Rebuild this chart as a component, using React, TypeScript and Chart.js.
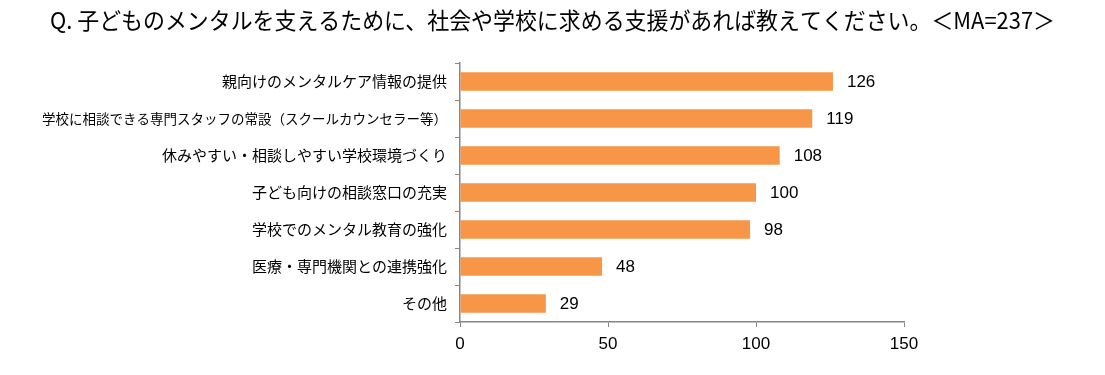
import React, { useEffect, useRef } from "react";
import { Chart, registerables } from "chart.js";

Chart.register(...registerables);

const TITLE = "Q. 子どものメンタルを支えるために、社会や学校に求める支援があれば教えてください。＜MA=237＞";
const categories = [
  "親向けのメンタルケア情報の提供",
  "学校に相談できる専門スタッフの常設（スクールカウンセラー等）",
  "休みやすい・相談しやすい学校環境づくり",
  "子ども向けの相談窓口の充実",
  "学校でのメンタル教育の強化",
  "医療・専門機関との連携強化",
  "その他",
];
const values = [126, 119, 108, 100, 98, 48, 29];
const xTicks = [0, 50, 100, 150];

const FONT = "'Noto Sans CJK JP', 'Liberation Sans', sans-serif";
const NUM_FONT = "'Liberation Sans', Arial, sans-serif";

const titlePlugin = {
  id: "centeredTitle",
  afterDraw(chart: any) {
    const ctx = chart.ctx;
    ctx.save();
    ctx.fillStyle = "#000";
    ctx.font = `23px ${FONT}`;
    ctx.textAlign = "center";
    ctx.textBaseline = "middle";
    const w = ctx.measureText(TITLE).width;
    const target = 1005;
    const sx = target / w;
    ctx.translate(chart.width / 2, 20);
    ctx.scale(sx, 1);
    ctx.fillText(TITLE, 0, 0);
    ctx.restore();
  },
};

const valueLabels = {
  id: "valueLabels",
  afterDatasetsDraw(chart: any) {
    const ctx = chart.ctx;
    const meta = chart.getDatasetMeta(0);
    ctx.save();
    ctx.fillStyle = "#000";
    ctx.font = `17px ${NUM_FONT}`;
    ctx.textAlign = "left";
    ctx.textBaseline = "middle";
    meta.data.forEach((bar: any, i: number) => {
      ctx.fillText(String(values[i]), bar.x + 14, bar.y + 1);
    });
    ctx.restore();
  },
};

export default function App() {
  const ref = useRef<HTMLCanvasElement | null>(null);
  useEffect(() => {
    document.body.style.margin = "0";
    const chart = new Chart(ref.current!, {
      type: "bar",
      data: {
        labels: categories,
        datasets: [
          {
            data: values,
            backgroundColor: "#F79646",
            borderWidth: 0,
            categoryPercentage: 1,
            barPercentage: 0.5,
          },
        ],
      },
      options: {
        indexAxis: "y",
        animation: false,
        responsive: false,
        layout: { padding: { left: 0, right: 201, top: 63, bottom: 0 } },
        plugins: {
          legend: { display: false },
          tooltip: { enabled: false },
          title: { display: false },
        },
        scales: {
          x: {
            min: 0,
            max: 150,
            afterBuildTicks(scale: any) {
              scale.ticks = xTicks.map((v) => ({ value: v }));
            },
            afterFit(scale: any) {
              scale.height = 53;
            },
            grid: {
              drawOnChartArea: false,
              drawTicks: true,
              tickLength: 5,
              color: "#868686",
            },
            border: { color: "#868686", width: 1.5 },
            ticks: {
              color: "#000",
              font: { family: NUM_FONT, size: 17 },
              padding: 7,
            },
          },
          y: {
            afterFit(scale: any) {
              scale.width = 460;
            },
            grid: {
              drawOnChartArea: false,
              drawTicks: true,
              tickLength: 5,
              color: "#868686",
              offset: true,
            },
            border: { color: "#868686", width: 1.5 },
            ticks: {
              color: "#000",
              font: (c: any) => ({
                family: FONT,
                size: String(categories[c.index] || "").length > 25 ? 13.5 : 15,
              }),
              padding: 8,
            },
          },
        },
      },
      plugins: [valueLabels, titlePlugin],
    });
    return () => chart.destroy();
  }, []);
  return (
    <div style={{ width: 1105, height: 375, background: "#fff" }}>
      <canvas ref={ref} width={1105} height={375} />
    </div>
  );
}
